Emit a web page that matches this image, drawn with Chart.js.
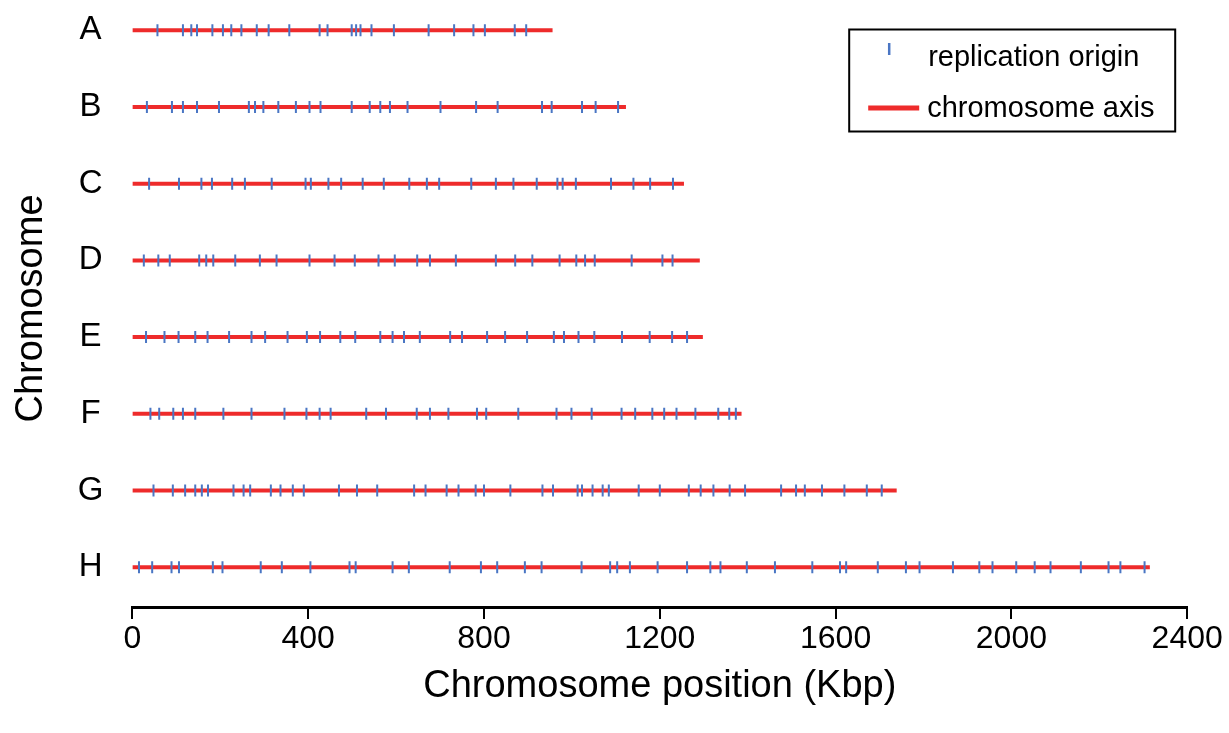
<!DOCTYPE html>
<html>
<head>
<meta charset="utf-8">
<script src="https://cdn.jsdelivr.net/npm/chart.js@4"></script>
<style>
html,body{margin:0;padding:0;background:#fff;}
#wrap{width:1229px;height:733px;}
</style>
</head>
<body>
<div id="wrap"><canvas id="c" width="1229" height="733"></canvas></div>
<script>
// ---- data (Kbp) ----
const chromosomes = ['A','B','C','D','E','F','G','H'];
const chromosomeLengths = [956, 1123, 1255, 1291, 1298, 1386, 1739, 2315];

const originsA = [57,115,134,147,182,206,225,248,283,310,357,426,444,499,509,519,544,595,674,732,776,802,870,896];
const originsB = [33,90,115,147,197,265,279,298,332,372,403,428,499,540,564,586,626,701,782,831,932,954,1023,1054,1105];
const originsC = [38,106,157,181,227,256,317,394,406,446,475,524,572,630,670,698,771,827,867,920,967,979,1009,1089,1140,1178,1230];
const originsD = [26,59,85,152,168,184,234,290,328,403,460,506,560,597,648,677,736,827,871,910,972,1010,1030,1052,1136,1206,1229];
const originsE = [31,73,105,143,171,220,271,302,353,397,427,473,507,564,592,618,654,723,750,807,848,898,959,982,1015,1051,1114,1177,1228,1262];
const originsF = [41,61,93,115,143,207,271,346,396,426,451,532,577,647,677,719,784,805,878,965,999,1045,1113,1144,1183,1210,1238,1281,1333,1358,1373];
const originsG = [48,92,120,143,158,172,230,253,268,315,337,365,390,470,511,557,641,667,715,742,781,800,860,933,957,1013,1023,1047,1070,1084,1152,1200,1266,1293,1322,1359,1394,1476,1510,1530,1569,1620,1671,1705];
const originsH = [15,45,89,106,183,205,292,340,405,494,508,592,629,722,793,830,893,931,1022,1087,1103,1132,1195,1262,1315,1338,1398,1462,1547,1610,1624,1696,1760,1791,1867,1927,1957,2011,2053,2089,2158,2221,2248,2303];
const originSets = [originsA, originsB, originsC, originsD, originsE, originsF, originsG, originsH];

const xTicks = [0, 400, 800, 1200, 1600, 2000, 2400];

// ---- styles ----
const RED = '#ee2b2b';
const BLUE = '#4a76c4';
const FONT = '"Liberation Sans", Arial, Helvetica, sans-serif';

const datasets = [];
chromosomes.forEach((name, i) => {
  datasets.push({
    label: 'axis ' + name,
    data: [{x: 0, y: i}, {x: chromosomeLengths[i], y: i}],
    showLine: true,
    borderColor: RED,
    backgroundColor: RED,
    borderWidth: 4,
    pointRadius: 0,
    order: 1
  });
  datasets.push({
    label: 'origins ' + name,
    data: originSets[i].map(v => ({x: v, y: i})),
    showLine: false,
    pointStyle: 'line',
    rotation: 90,
    pointRadius: 6,
    borderColor: BLUE,
    backgroundColor: BLUE,
    borderWidth: 2,
    order: 0
  });
});

const legendBox = {
  id: 'legendBox',
  afterDraw(chart) {
    const ctx = chart.ctx;
    const right = chart.chartArea.right - 12;
    const left = right - 326;
    const top = 29.5;
    ctx.save();
    ctx.strokeStyle = '#000';
    ctx.lineWidth = 2;
    ctx.strokeRect(left, top, 326, 102);
    ctx.strokeStyle = BLUE;
    ctx.lineWidth = 2.5;
    ctx.beginPath(); ctx.moveTo(left + 40, 43); ctx.lineTo(left + 40, 55); ctx.stroke();
    ctx.strokeStyle = RED;
    ctx.lineWidth = 5;
    ctx.beginPath(); ctx.moveTo(left + 19, 108); ctx.lineTo(left + 70, 108); ctx.stroke();
    ctx.fillStyle = '#000';
    ctx.font = '29px ' + FONT;
    ctx.textBaseline = 'alphabetic';
    ctx.textAlign = 'left';
    ctx.fillText('replication origin', left + 79, 66);
    ctx.fillText('chromosome axis', left + 78, 117);
    ctx.restore();
  }
};

new Chart(document.getElementById('c'), {
  type: 'scatter',
  data: { datasets },
  options: {
    responsive: false,
    animation: false,
    events: [],
    layout: { padding: { top: 10, left: 0, right: 41.8, bottom: 0 } },
    plugins: { legend: { display: false }, tooltip: { enabled: false }, title: { display: false } },
    scales: {
      x: {
        type: 'linear',
        min: 0, max: 2400,
        afterBuildTicks: axis => { axis.ticks = xTicks.map(v => ({value: v})); },
        ticks: { color: '#000', font: { family: FONT, size: 32 }, padding: 1, maxRotation: 0,
                 callback: v => String(v) },
        grid: { display: true, drawOnChartArea: false, drawTicks: true, tickLength: 12, color: '#000', lineWidth: 2 },
        border: { display: true, color: '#000', width: 3 },
        title: { display: true, text: 'Chromosome position (Kbp)', color: '#000',
                 font: { family: FONT, size: 38 }, padding: { top: 0, bottom: 24 } },
        afterFit: s => { s.height = 126; s.paddingTop = 0; s.paddingBottom = 0; }
      },
      y: {
        type: 'linear',
        reverse: true,
        min: -0.2647, max: 7.519,
        afterBuildTicks: axis => { axis.ticks = chromosomes.map((c, i) => ({value: i})); },
        ticks: { color: '#000', font: { family: FONT, size: 33 }, padding: 21, crossAlign: 'center',
                 callback: v => chromosomes[v] },
        grid: { display: false },
        border: { display: false },
        title: { display: true, text: 'Chromosome', color: '#000',
                 font: { family: FONT, size: 38 }, padding: { top: 9, bottom: 0 } },
        afterFit: s => { s.width = 132.4; s.paddingTop = 0; s.paddingBottom = 0; }
      }
    }
  },
  plugins: [legendBox]
});
</script>
</body>
</html>
